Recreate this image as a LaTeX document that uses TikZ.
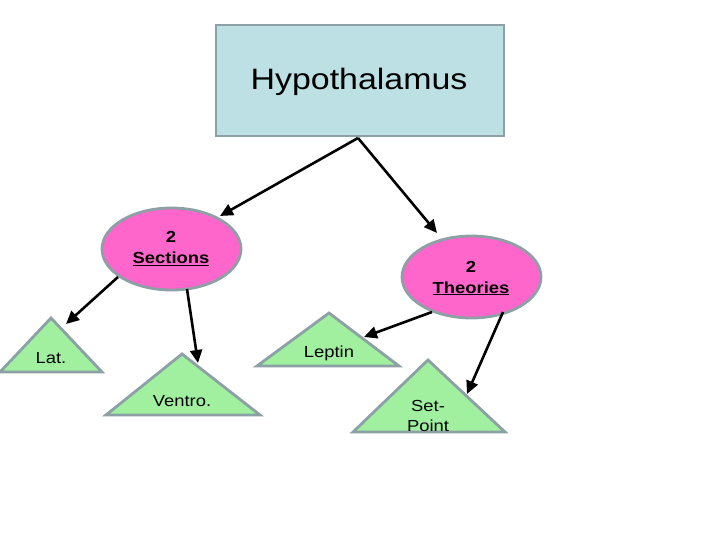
\documentclass[tikz,border=0pt]{standalone}
\usepackage{fontspec}
\setmainfont{Liberation Sans}[FakeStretch=1.15]
\usetikzlibrary{arrows.meta,shapes.geometric}
\definecolor{boxblue}{RGB}{188,224,228}
\definecolor{edgegray}{RGB}{140,160,166}
\definecolor{pinkfill}{RGB}{255,102,204}
\definecolor{greenfill}{RGB}{160,240,160}
\tikzset{
  hypbox/.style={draw=edgegray,line width=2.8pt,fill=boxblue,minimum width=288pt,minimum height=111pt,inner sep=0pt},
  pinkell/.style={ellipse,draw=edgegray,line width=2.8pt,fill=pinkfill,minimum width=139pt,minimum height=82pt,inner sep=0pt},
  tri/.style={draw=edgegray,line width=2.8pt,fill=greenfill,line join=miter},
  lbl/.style={font=\fontsize{16}{20}\selectfont,align=center,inner sep=0pt},
  blbl/.style={font=\fontsize{16}{21}\selectfont\bfseries,align=center,inner sep=0pt},
  arr/.style={line width=2.6pt,-{Triangle[length=13pt,width=12pt]}}
}
\begin{document}
\begin{tikzpicture}[x=1pt,y=-1pt]
\useasboundingbox (0,0) rectangle (720,540);
% box
\node[hypbox] (hyp) at (360,80.5) {};
\node[font=\fontsize{29.5}{34}\selectfont,inner sep=0pt] (hyptext) at (359,82) {Hypothalamus};
% ellipses
\node[pinkell] (sec) at (171.5,249) {};
\node[blbl] (sectext) at (171,248.5) {2\\\underline{Sections}};
\node[pinkell] (theo) at (471.5,277) {};
\node[blbl] (theotext) at (471,278) {2\\\underline{Theories}};
% triangles
\coordinate (latA) at (51,318);
\coordinate (ventA) at (182,354);
\coordinate (lepA) at (329,313);
\coordinate (setA) at (428,360);
\draw[tri] (0,372) -- (latA) -- (102,372) -- cycle;
\draw[tri] (106,415) -- (ventA) -- (260,415) -- cycle;
\draw[tri] (257,366) -- (lepA) -- (399,366) -- cycle;
\draw[tri] (353,432) -- (setA) -- (505,432) -- cycle;
\node[lbl] (lat) at (51,358) {Lat.};
\node[lbl] (vent) at (182,401) {Ventro.};
\node[lbl] (lep) at (329,353) {Leptin};
\node[lbl] (setp) at (428,416) {Set-\\Point};
% arrow ends
\coordinate (hs) at (358,138);
\coordinate (secT) at (220,216);
\coordinate (theoT) at (437,233);
\coordinate (secL) at (118,277);
\coordinate (latT) at (66,324);
\coordinate (secB) at (187,289);
\coordinate (ventT) at (198,363);
\coordinate (theoL) at (432,312);
\coordinate (lepT) at (364,337);
\coordinate (theoR) at (503,312);
\coordinate (setT) at (467,394);
\draw[arr] (hs) -- (secT);
\draw[arr] (hs) -- (theoT);
\draw[arr] (secL) -- (latT);
\draw[arr] (secB) -- (ventT);
\draw[arr] (theoL) -- (lepT);
\draw[arr] (theoR) -- (setT);
\end{tikzpicture}
\end{document}
